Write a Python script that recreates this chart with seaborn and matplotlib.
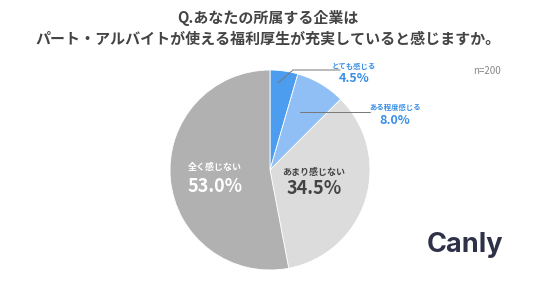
import matplotlib
matplotlib.use("Agg")
import matplotlib.pyplot as plt
import seaborn as sns

categories = ["とても感じる", "ある程度感じる", "あまり感じない", "全く感じない"]
values = [4.5, 8.0, 34.5, 53.0]
colors = ["#4c9cf0", "#8fbff5", "#dcdcdc", "#b1b1b1"]
title = "Q.あなたの所属する企業は\nパート・アルバイトが使える福利厚生が充実していると感じますか。"

sns.set_theme(style="white")
plt.rcParams['font.family'] = ['Noto Sans CJK JP', 'DejaVu Sans']

fig = plt.figure(figsize=(5.36, 2.81), dpi=100)
fig.patch.set_facecolor("white")
ax = fig.add_axes([170/536, 11/281, 200/536, 200/281])
ax.pie(values, colors=colors, startangle=90, counterclock=False,
       wedgeprops=dict(edgecolor="white", linewidth=0.6))
ax.set_xlim(-1, 1)
ax.set_ylim(-1, 1)
ax.set_aspect("equal")
ax.axis("off")

fig.text(0.5, 0.9, title, ha="center", va="center", fontsize=10.8,
         fontweight="bold", color="#444444", linespacing=1.35)
fig.text(487/536, 1-71/281, "n=200", ha="center", va="center", fontsize=7, color="#888888")

blue = "#3a8ee6"
# leader lines
ax.plot([0.08, 0.23, 0.70], [0.87, 1.0, 1.0], color="#777777", lw=0.7, clip_on=False)
ax.plot([0.30, 1.0], [0.58, 0.58], color="#777777", lw=0.7, clip_on=False)

def lab(x, y, name, val, col, fs1, fs2, dy):
    ax.text(x, y, name, ha="center", va="center", fontsize=fs1, color=col,
            fontweight="bold", clip_on=False)
    ax.text(x, y - dy, f"{val:.1f}%", ha="center", va="center", fontsize=fs2,
            color=col, fontweight="bold", clip_on=False)

lab(0.84, 1.04, categories[0], values[0], blue, 5.3, 9, 0.12)
lab(1.25, 0.63, categories[1], values[1], blue, 5.3, 9, 0.13)
lab(0.44, -0.02, categories[2], values[2], "#444444", 6.5, 13, 0.17)
lab(-0.55, 0.03, categories[3], values[3], "white", 6.5, 13, 0.19)

fig.text(465/536, 1-245/281, "Canly", ha="center", va="center", fontsize=19.5,
         fontweight="bold", color="#2e3148", family=["Inter", "DejaVu Sans"])

fig.savefig("out.png", dpi=100, facecolor="white")
